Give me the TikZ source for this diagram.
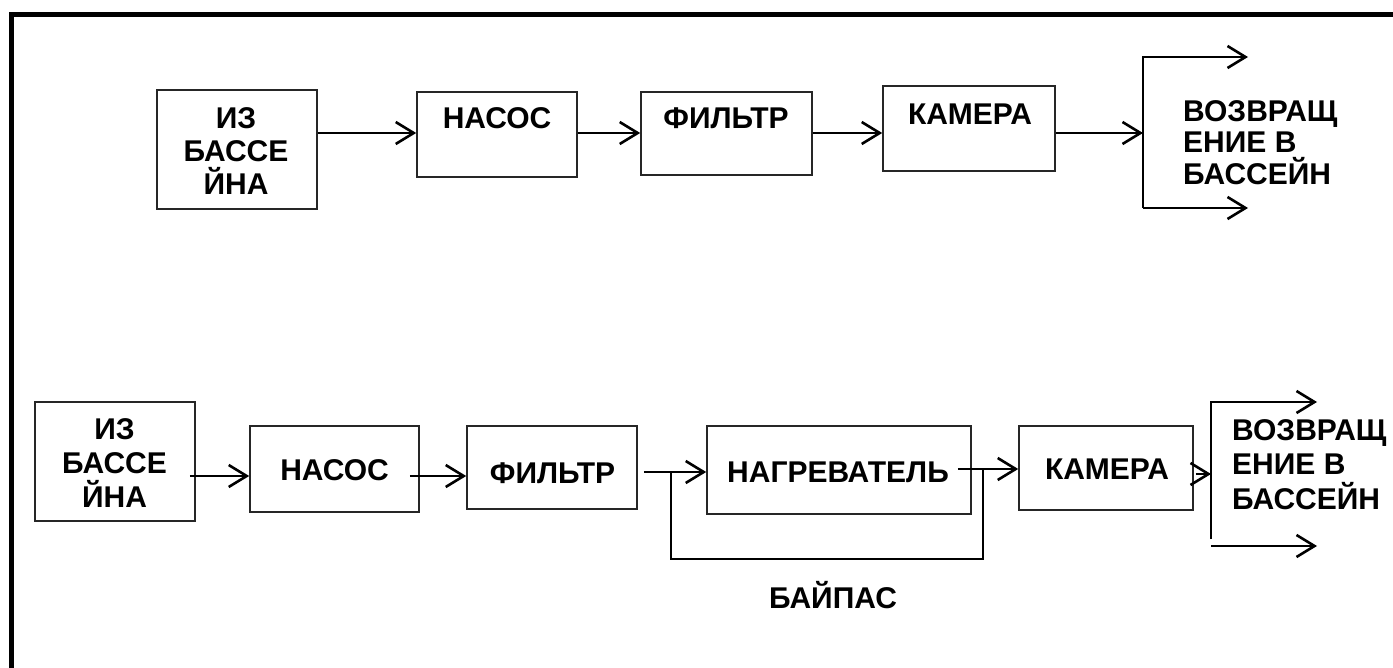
\documentclass[tikz,border=0pt]{standalone}
\usepackage{fontspec}
\setmainfont{Liberation Sans}
\usetikzlibrary{arrows.meta,calc}
\begin{document}
\begin{tikzpicture}[x=1pt,y=-1pt,
  box/.style={draw=black!85,line width=1.6pt,inner sep=0pt},
  txt/.style={inner sep=0pt,font=\fontsize{30}{33}\selectfont\bfseries},
  conn/.style={line width=2.6pt,line join=miter},
  arr/.style={conn,-{Straight Barb[length=18pt,width=22pt]}}]
\useasboundingbox (0,0) rectangle (1393,668);
% frame
\draw[line width=5pt,line join=miter] (11,672) -- (11,15) -- (1397,15);

% ---------- top row ----------
\node[box,minimum width=160pt,minimum height=119pt] (T1) at (237,149.5) {};
\node[box,minimum width=160pt,minimum height=85pt]  (T2) at (497,134.5) {};
\node[box,minimum width=171pt,minimum height=83pt]  (T3) at (726.5,133.5) {};
\node[box,minimum width=172pt,minimum height=85pt]  (T4) at (969,128.5) {};

\node[txt,align=center,anchor=north] (T1t) at (236,107.5) {ИЗ\\БАССЕ\\ЙНА};
\node[txt,anchor=base] (T2t) at (497,129) {НАСОС};
\node[txt,anchor=base] (T3t) at (726,129) {ФИЛЬТР};
\node[txt,anchor=base] (T4t) at (970,125) {КАМЕРА};
\node[txt,align=left,anchor=north west,font=\fontsize{30}{31.5}\selectfont\bfseries] (Trt) at (1183,100) {ВОЗВРАЩ\\ЕНИЕ В\\БАССЕЙН};

\coordinate (ya) at (0,133);
\coordinate (Rt) at (1143,57);
\coordinate (Rb) at (1143,208);
\coordinate (RtE) at (1248,57);
\coordinate (RbE) at (1248,208);

\draw[arr] (T1.east |- ya) -- (T2.west |- ya);
\draw[arr] (T2.east |- ya) -- (T3.west |- ya);
\draw[arr] (T3.east |- ya) -- (T4.west |- ya);
\draw[arr] (T4.east |- ya) -- (Rt |- ya);
\draw[arr] (Rb) -- (Rt) -- (RtE);
\draw[arr] (Rb) -- (RbE);

% ---------- bottom row ----------
\node[box,minimum width=160pt,minimum height=119pt] (B1) at (115,461.5) {};
\node[box,minimum width=169pt,minimum height=86pt]  (B2) at (334.5,469) {};
\node[box,minimum width=170pt,minimum height=83pt]  (B3) at (552,467.5) {};
\node[box,minimum width=264pt,minimum height=88pt]  (H)  at (839,470) {};
\node[box,minimum width=174pt,minimum height=84pt]  (C)  at (1106,468) {};

\node[txt,align=center,anchor=north,font=\fontsize{30}{34}\selectfont\bfseries] (B1t) at (114.5,418) {ИЗ\\БАССЕ\\ЙНА};
\node[txt,anchor=base] (B2t) at (334.5,480) {НАСОС};
\node[txt,anchor=base] (B3t) at (552.5,483) {ФИЛЬТР};
\node[txt,anchor=base] (Ht)  at (838,482) {НАГРЕВАТЕЛЬ};
\node[txt,anchor=base] (Ct)  at (1107,479) {КАМЕРА};
\node[txt,anchor=base] (BPt) at (833,608) {БАЙПАС};
\node[txt,align=left,anchor=north west,font=\fontsize{30}{34.5}\selectfont\bfseries] (Brt) at (1232,419) {ВОЗВРАЩ\\ЕНИЕ В\\БАССЕЙН};

\coordinate (yb1) at (0,476);
\coordinate (yb2) at (0,472);
\coordinate (yb3) at (0,469);
\coordinate (yb4) at (0,474);
\coordinate (Qt) at (1211,402);
\coordinate (Qb) at (1211,539);
\coordinate (QtE) at (1317,402);
\coordinate (Qs) at (1211,546);
\coordinate (QsE) at (1317,546);
\coordinate (bpA) at (671,472);
\coordinate (bpB) at (671,559);
\coordinate (bpC) at (983,559);
\coordinate (bpD) at (983,470);

\draw[arr] ($(B1.east |- yb1)+(-6,0)$) -- (B2.west |- yb1);
\draw[arr] ($(B2.east |- yb1)+(-10,0)$) -- (B3.west |- yb1);
\draw[arr] ($(B3.east |- yb2)+(6,0)$) -- (H.west |- yb2);
\draw[arr] ($(H.east |- yb3)+(-14,0)$) -- (C.west |- yb3);
\draw[arr] ($(C.east |- yb4)+(2,0)$) -- (Qt |- yb4);
\draw[arr] (Qb) -- (Qt) -- (QtE);
\draw[arr] (Qs) -- (QsE);
\draw[conn] (bpA) -- (bpB) -- (bpC) -- (bpD);
\end{tikzpicture}
\end{document}
